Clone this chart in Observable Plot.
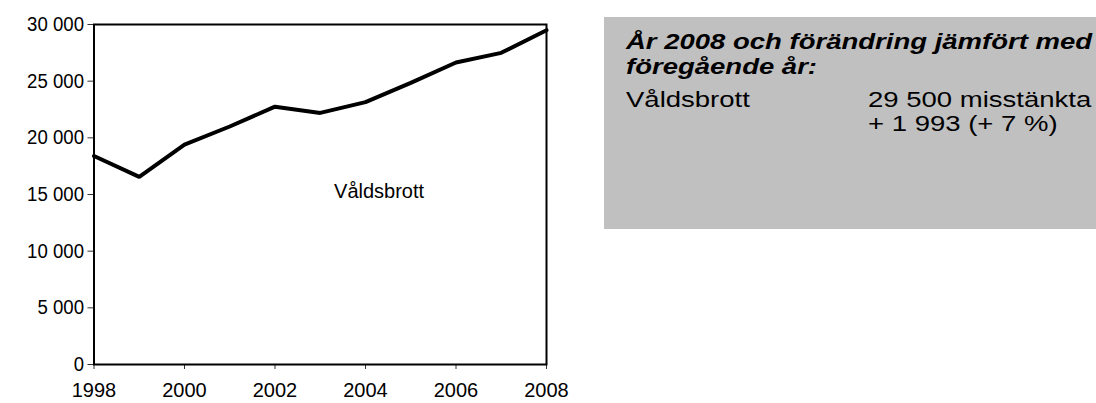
<!DOCTYPE html>
<html>
<head>
<meta charset="utf-8">
<script src="https://cdn.jsdelivr.net/npm/d3@7"></script>
<script src="https://cdn.jsdelivr.net/npm/@observablehq/plot@0.6"></script>
<style>
  html, body { margin: 0; padding: 0; background: #fff; }
  body { width: 1096px; height: 403px; position: relative; overflow: hidden; font-family: "Liberation Sans", Arial, sans-serif; }
  #chart { position: absolute; left: 0; top: 0; }
  #box { position: absolute; left: 604px; top: 17px; width: 492px; height: 212px; background: #c0c0c0; color: #000; }
  #box .title { position: absolute; left: 22px; top: 12px; font-weight: bold; font-style: italic; font-size: 22px; line-height: 25px; white-space: nowrap; transform-origin: left top; transform: scaleX(1.25); }
  #box .row { position: absolute; font-size: 22px; line-height: 24px; white-space: nowrap; transform-origin: left top; transform: scaleX(1.25); }
</style>
</head>
<body>
<div id="chart"></div>
<div id="box">
  <div class="title" id="boxTitle"></div>
  <div class="row" id="boxName" style="left:22px; top:71px;"></div>
  <div class="row" id="boxValue" style="left:264px; top:71px;"></div>
</div>
<script>
const years = [1998, 1999, 2000, 2001, 2002, 2003, 2004, 2005, 2006, 2007, 2008];
const suspects = [18400, 16550, 19400, 21000, 22750, 22200, 23150, 24850, 26650, 27500, 29500];
const seriesName = "Våldsbrott";
const xTicks = [1998, 2000, 2002, 2004, 2006, 2008];
const yTicks = [0, 5000, 10000, 15000, 20000, 25000, 30000];
const labelPos = [{year: 2004.3, value: 15300, text: seriesName}];
const boxTitleLines = ["År 2008 och förändring jämfört med", "föregående år:"];
const boxValueLines = ["29 500 misstänkta", "+ 1 993 (+ 7 %)"];

const data = years.map((y, i) => ({year: y, value: suspects[i]}));
const fmt = d => d3.format(",")(d).replace(/,/g, " ");

const chart = Plot.plot({
  width: 600,
  height: 403,
  marginLeft: 93.5,
  marginRight: 54,
  marginTop: 24,
  marginBottom: 39,
  style: {fontFamily: '"Liberation Sans", Arial, sans-serif', fontSize: "20px", color: "#000", background: "transparent", overflow: "visible"},
  x: {domain: [1998, 2008], label: null},
  y: {domain: [0, 30000], label: null},
  marks: [
    Plot.axisX({ticks: xTicks, tickFormat: d => String(d), tickSize: 5, tickPadding: 13, stroke: "#333", fontSize: 20}),
    Plot.axisY({ticks: yTicks, tickFormat: fmt, tickSize: 6, tickPadding: 4, stroke: "#333", fontSize: 20}),
    Plot.frame({stroke: "#000", strokeWidth: 2}),
    Plot.line(data, {x: "year", y: "value", stroke: "#000", strokeWidth: 4, strokeLinejoin: "miter"}),
    Plot.text(labelPos, {x: "year", y: "value", text: "text", fontSize: 20, fill: "#000", style: "letter-spacing: 1.5px"})
  ]
});
document.getElementById("chart").appendChild(chart);
// slightly condensed y tick labels, as in the reference
chart.querySelectorAll('g[aria-label="y-axis tick label"] text').forEach(t => {
  const w = t.getComputedTextLength();
  t.setAttribute("textLength", (w * 0.93).toFixed(1));
  t.setAttribute("lengthAdjust", "spacingAndGlyphs");
});
document.getElementById("boxTitle").innerHTML = boxTitleLines.join("<br>");
document.getElementById("boxName").textContent = seriesName;
document.getElementById("boxValue").innerHTML = boxValueLines.join("<br>");
</script>
</body>
</html>
